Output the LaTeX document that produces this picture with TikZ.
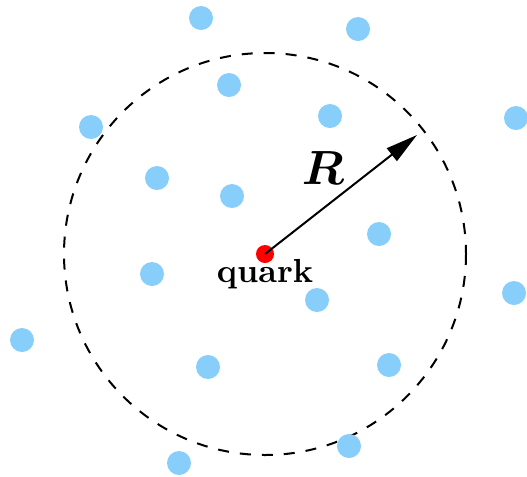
\documentclass[tikz,border=0pt]{standalone}
\usepackage{amsmath,amssymb}
\usetikzlibrary{arrows.meta}
\definecolor{gluonblue}{RGB}{135,206,250}

\begin{document}
\begin{tikzpicture}[
x=0.3pt,y=-0.3pt,
gluon/.style={circle,fill=gluonblue,inner sep=0pt,minimum size=7.2pt},
quarkdot/.style={circle,fill=red,inner sep=0pt,minimum size=5.4pt},
bag/.style={dash pattern=on 3.3pt off 3.3pt,line width=0.6pt},
arrowlabel/.style={font=\Large,inner sep=1pt},
arrow/.style={-{Triangle[length=9.6pt,width=4.8pt]},line width=0.6pt} ]

\useasboundingbox (0,0) rectangle (527,476);

\node[quarkdot] (q) at (265,254) {};

\draw[bag] (q.center) circle (201);

\foreach \x/\y [count=\i] in {201/18,358/29,229/85,91/127,330/116,516/118,157/178,232/196,379/234,152/274,317/300,514/293,22/340,208/367,389/365,349/446,179/463}
  \node[gluon] (g\i) at (\x,\y) {};

\coordinate (tip) at (417,135);

\draw[arrow] (q.center) -- (tip);

\node[arrowlabel] (R) at (323,168) {$\boldsymbol{R}$};

\node[anchor=base] (quark) at (265,282) {\textbf{quark}};

\end{tikzpicture}
\end{document}
